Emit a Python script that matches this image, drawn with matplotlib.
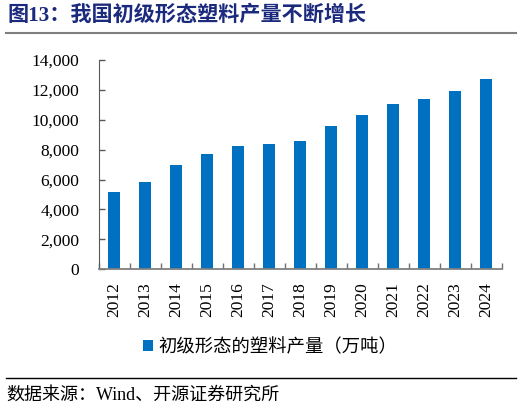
import matplotlib
matplotlib.use("Agg")
import matplotlib.pyplot as plt
from matplotlib.lines import Line2D
import numpy as np

years = ["2012", "2013", "2014", "2015", "2016", "2017", "2018",
         "2019", "2020", "2021", "2022", "2023", "2024"]
output = [5180, 5830, 6950, 7700, 8240, 8380, 8560,
          9580, 10350, 11050, 11390, 11920, 12750]
yticks = [0, 2000, 4000, 6000, 8000, 10000, 12000, 14000]
series_name = "初级形态的塑料产量（万吨）"
title = "图13：我国初级形态塑料产量不断增长"
source = "数据来源：Wind、开源证券研究所"

MIX = ["Liberation Serif", "Noto Sans CJK SC", "DejaVu Sans"]
CJK = ["Noto Sans CJK SC", "DejaVu Sans"]

fig = plt.figure(figsize=(5.22, 4.08), dpi=100)
ax = fig.add_axes([0.189, 0.340, 0.772, 0.513])

x = np.arange(len(years))
ax.bar(x, output, width=0.4, color="#0070C0", label=series_name)

ax.set_xlim(-0.5, len(years) - 0.5)
ax.set_ylim(0, 14000)
ax.set_yticks(yticks)
ax.set_yticklabels([f"{v:,}" for v in yticks], family=MIX, fontsize=12.5)
ax.set_xticks(x)
ax.set_xticklabels(years, rotation=90, family=MIX, fontsize=12.5)
ax.set_xticks(np.arange(-0.5, len(years)), minor=True)
ax.tick_params(axis="x", which="major", length=0, pad=9)
ax.tick_params(axis="x", which="minor", direction="in", length=4, color="#707070", width=1)
ax.tick_params(axis="y", direction="in", length=4, color="#595959", width=1, pad=14)

for s in ["top", "right"]:
    ax.spines[s].set_visible(False)
ax.spines["left"].set_color("#595959")
ax.spines["bottom"].set_color("#808080")
ax.spines["bottom"].set_linewidth(1.3)

leg = ax.legend(loc="center", bbox_to_anchor=(0.518, 0.150), bbox_transform=fig.transFigure,
                frameon=False, handlelength=0.55, handleheight=0.55, handletextpad=0.3,
                prop={"family": CJK, "size": 13.2})

fig.text(0.015, 0.962, title, family=MIX, fontsize=15.2, fontweight="bold",
         color="#1C2A7E", va="center", ha="left")
fig.add_artist(Line2D([0.012, 0.989], [0.918, 0.918], transform=fig.transFigure,
                      color="#7f7f7f", linewidth=1.5))
fig.add_artist(Line2D([0.012, 0.989], [0.0735, 0.0735], transform=fig.transFigure,
                      color="#000000", linewidth=1.0))
fig.text(0.013, 0.032, source, family=MIX, fontsize=13, color="#000000",
         va="center", ha="left")

fig.savefig("out.png", dpi=100)
